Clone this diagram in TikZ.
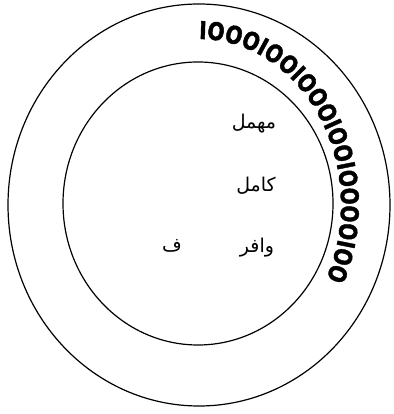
\documentclass[tikz,border=0pt]{standalone}
\usepackage{fontspec}
\newfontfamily\arabicfont[Script=Arabic]{DejaVu Sans}
\newfontfamily\bitfont[FakeStretch=0.82,FakeBold=1.5]{DejaVu Sans Bold}
\TeXXeTstate=1
\usetikzlibrary{shapes.geometric,decorations.text}
\tikzset{
  ringln/.style={draw, ellipse, line width=1.2pt, inner sep=0pt},
  metre/.style={font=\arabicfont\fontsize{19}{22}\selectfont, inner sep=0pt},
}

\begin{document}
\begin{tikzpicture}[x=1pt,y=1pt]
  \useasboundingbox[fill=white] (0,0) rectangle (393,414);
  % the two rings
  \node[ringln, minimum width=382pt, minimum height=402pt] (outer) at (199,209) {};
  \node[ringln, minimum width=270pt, minimum height=283pt] (inner) at (198,210.5) {};
  % bit string round the ring
  \path[decorate, decoration={text along path,
      text={|\bitfont\fontsize{24.5}{24}\selectfont|IOOOIOOIOOOIOOIOOOOIOO}}]
    (199,209) ++(90:142pt and 166pt)
    arc[start angle=90, end angle=-40, x radius=142pt, y radius=166pt];
  % names of the metres
  \node[metre] (muhmal) at (254,290) {\beginR مهمل\endR};
  \node[metre] (kamil) at (256,228) {\beginR كامل\endR};
  \node[metre] (wafir) at (257,166) {\beginR وافر\endR};
  \node[metre] (fa) at (172,168) {\beginR ف\endR};
\end{tikzpicture}
\end{document}
